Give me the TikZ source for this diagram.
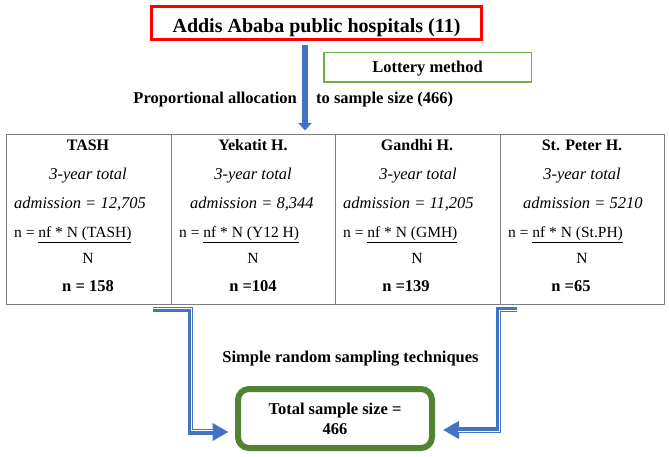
\documentclass[tikz,border=0pt]{standalone}
\usepackage{fontspec}
\setmainfont{Liberation Serif}
\usetikzlibrary{arrows.meta,calc}
\definecolor{wblue}{HTML}{4472C4}
\definecolor{wred}{HTML}{FF0000}
\definecolor{lgreen}{HTML}{70AD47}
\definecolor{dgreen}{HTML}{548235}
\definecolor{cellgray}{HTML}{7F7F7F}
\begin{document}
\begin{tikzpicture}[x=1pt,y=-1pt,
  cellbox/.style={draw=cellgray,line width=1.2pt,minimum width=164.5pt,minimum height=170pt,inner sep=0pt,anchor=north west},
  hd/.style={font=\fontsize{16}{18}\selectfont\bfseries,anchor=base,inner sep=0pt},
  itx/.style={font=\fontsize{16.5}{18}\selectfont\itshape,anchor=base,inner sep=0pt},
  itw/.style={itx,anchor=base west},
  rg/.style={font=\fontsize{15.5}{18}\selectfont,anchor=base,inner sep=0pt},
  rgw/.style={rg,anchor=base west},
  bd/.style={font=\fontsize{16.5}{20}\selectfont\bfseries,inner sep=0pt},
  conn/.style={draw=wblue,line width=5.5pt,-{Triangle[length=16pt,width=17pt]}},
  stripe/.style={draw=white,line width=0.9pt}
]
\useasboundingbox (0,0) rectangle (669,457);
% top boxes
\node[draw=wred,line width=3pt,minimum width=330pt,minimum height=33pt,inner sep=0pt,
  font=\fontsize{20}{22}\selectfont\bfseries,text height=18.4pt,text depth=0pt] (hosp) at (316.5,23) {Addis Ababa public hospitals (11)};
\node[draw=lgreen,line width=1.5pt,minimum width=207.5pt,minimum height=29.5pt,inner sep=0pt,
  font=\fontsize{16.5}{18}\selectfont\bfseries,text height=11pt,text depth=0pt] (lot) at (427.5,67.5) {Lottery method};
\node[bd,anchor=base east] (prop) at (297,104) {Proportional allocation};
\node[bd,anchor=base west] (tosz) at (316,104) {to sample size (466)};
% table cells
\node[cellbox] (cTASH) at (6,134) {};
\node[cellbox] (cYek) at (170.5,134) {};
\node[cellbox] (cGan) at (335,134) {};
\node[cellbox] (cPet) at (499.5,134) {};
% column 1
\node[hd] (h1) at (88,151) {TASH};
\node[itx] (y1) at (88,180) {3-year total};
\node[itw] (a1) at (14,208) {admission = 12,705};
\node[rgw] (f1) at (14,237) {n = \underline{nf * N (TASH)}};
\node[rg] (N1) at (88,263) {N};
\node[hd,font=\fontsize{16.5}{18}\selectfont\bfseries] (n1) at (88,291) {n = 158};
% column 2
\node[hd] (h2) at (253,151) {Yekatit H.};
\node[itx] (y2) at (253,180) {3-year total};
\node[itw] (a2) at (190,208) {admission = 8,344};
\node[rgw] (f2) at (179,237) {n = \underline{nf * N (Y12 H)}};
\node[rg] (N2) at (253,263) {N};
\node[hd,font=\fontsize{16.5}{18}\selectfont\bfseries] (n2) at (253,291) {n =104};
% column 3
\node[hd] (h3) at (417,151) {Gandhi H.};
\node[itx] (y3) at (418,180) {3-year total};
\node[itw] (a3) at (343,208) {admission = 11,205};
\node[rgw] (f3) at (343,237) {n = \underline{nf * N (GMH)}};
\node[rg] (N3) at (417,263) {N};
\node[hd,font=\fontsize{16.5}{18}\selectfont\bfseries] (n3) at (406,291) {n =139};
% column 4
\node[hd] (h4) at (582,151) {St. Peter H.};
\node[itx] (y4) at (582,180) {3-year total};
\node[itw] (a4) at (523,208) {admission = 5210};
\node[rgw] (f4) at (508,237) {n = \underline{nf * N (St.PH)}};
\node[rg] (N4) at (582,263) {N};
\node[hd,font=\fontsize{16.5}{18}\selectfont\bfseries] (n4) at (571,291) {n =65};
% bottom
\node[bd,anchor=base] (srs) at (350.5,362) {Simple random sampling techniques};
\node[draw=dgreen,line width=6pt,rounded corners=11pt,minimum width=194pt,minimum height=59pt,inner sep=0pt,
  align=center,font=\fontsize{16.5}{20}\selectfont\bfseries] (tot) at (335,418.5) {Total sample size =\\466};
% connectors
\coordinate (downx) at (305,0);
\draw[draw=wblue,line width=6.5pt,-{Triangle[length=7.5pt,width=13pt]},shorten <=4pt,shorten >=3.5pt]
  (hosp.south -| downx) -- (cYek.north -| downx);
\coordinate (lstart) at (153,309.5);
\coordinate (lcorner) at (190.5,432);
\draw[conn,shorten >=6.5pt] (lstart) -| (lcorner) -- (lcorner -| tot.west);
\draw[stripe] ($(lstart)+(0,-1.2)$) -| ($(lcorner)+(1.2,-1.2)$) -- ($(lcorner -| tot.west)+(-22,-1.2)$);
\coordinate (rstart) at (517,309.5);
\coordinate (rcorner) at (498.5,430);
\draw[conn,shorten >=8pt] (rstart) -| (rcorner) -- (rcorner -| tot.east);
\draw[stripe] ($(rstart)+(0,1.2)$) -| ($(rcorner)+(1.2,1.2)$) -- ($(rcorner -| tot.east)+(23,1.2)$);
\end{tikzpicture}
\end{document}
